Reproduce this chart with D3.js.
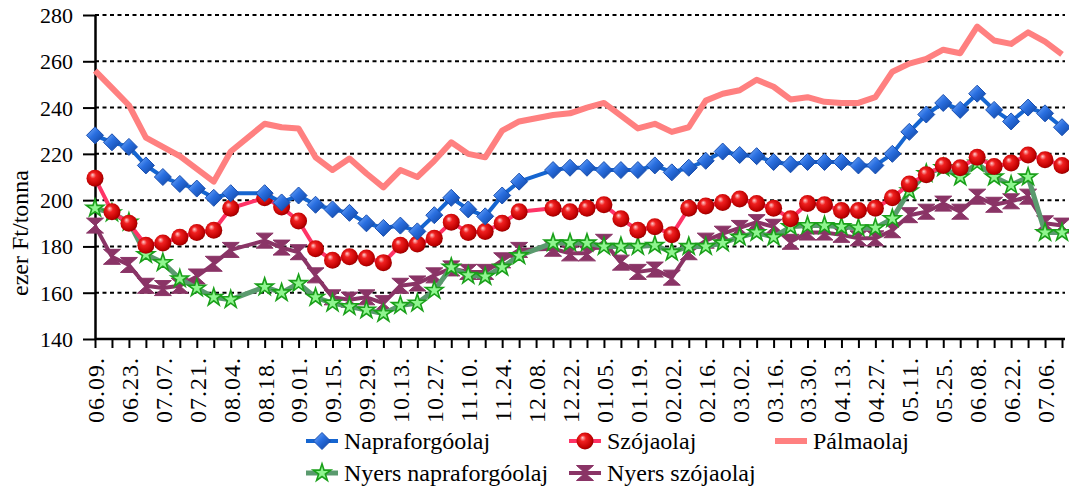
<!DOCTYPE html>
<html>
<head>
<meta charset="utf-8">
<script src="https://cdn.jsdelivr.net/npm/d3@7"></script>
<style>
  body { margin: 0; background: #fff; }
</style>
</head>
<body>
<svg id="chart" width="1069" height="491"></svg>
<script>
// weekly dates, every second one is labelled
const categories = [
  '06.09.', '06.16.', '06.23.', '06.30.', '07.07.', '07.14.', '07.21.', '07.28.',
  '08.04.', '08.11.', '08.18.', '08.25.', '09.01.', '09.08.', '09.15.', '09.22.',
  '09.29.', '10.06.', '10.13.', '10.20.', '10.27.', '11.03.', '11.10.', '11.17.',
  '11.24.', '12.01.', '12.08.', '12.15.', '12.22.', '12.29.', '01.05.', '01.12.',
  '01.19.', '01.26.', '02.02.', '02.09.', '02.16.', '02.23.', '03.02.', '03.09.',
  '03.16.', '03.23.', '03.30.', '04.06.', '04.13.', '04.20.', '04.27.', '05.04.',
  '05.11.', '05.18.', '05.25.', '06.01.', '06.08.', '06.15.', '06.22.', '06.29.',
  '07.06.', '07.13.'
];

const napraforgoolaj = [
  228, 225, 223, 215, 210, 207, 205, 201, 203, null, 203, 199, 202, 198, 196, 194.5,
  190, 188, 189, 186.5, 193.5, 201, 196, 193, 202, 208, null, 213, 214, 214, 213, 213,
  213, 215, 212, 214, 217, 221, 219.5, 219, 216.5, 215.5, 216.5, 216.5, 216.5, 215, 215, 220,
  229.5, 237, 242, 239, 246, 239, 234, 240, 237.5, 231.5
];
const szojaolaj = [
  209.5, 195, 190, 180.5, 181.5, 184, 186, 187, 196.5, null, 201, 197, 191, 179, 174, 175.5,
  175, 173, 180.5, 181, 183.5, 190.5, 186, 186.5, 190, 195, null, 196.5, 195, 196.5, 198, 192,
  187, 188.5, 185, 196.5, 197.5, 199, 200.5, 198.5, 196.5, 192, 198.5, 198, 195.5, 195.5, 196.5, 201,
  207, 211, 215, 214, 218.5, 214.5, 216, 219.5, 217.5, 215
];
const palmaolaj = [
  256, 248.5, 241, 227, 223, 219, 213.5, 208, 221, null, 233, 231.5, 231, 218.5, 213, 218,
  211.5, 205.5, 213, 210, 217, 225, 220, 218.5, 230, 234, null, 236.8, 237.5, 240, 242, 236.5,
  231, 233, 229.5, 231.5, 243, 246, 247.5, 252, 249, 243.5, 244.5, 242.5, 242, 242, 244.5, 255.5,
  259, 261, 265, 263.5, 275, 269, 267.5, 272.5, 268.5, 263
];
const nyersNapraforgo = [
  196.5, 194.5, 190.5, 176.5, 173, 166, 162, 158, 157, null, 162.5, 160, 164, 158, 155.5, 154,
  152.5, 151, 154.5, 155.5, 161, 171, 167.5, 167, 171, 176, null, 181.5, 181.5, 181.5, 180, 180,
  180, 180.5, 177.5, 180, 180, 181.5, 184, 186, 184, 188.5, 189, 189, 188.5, 188, 188, 192,
  204, 211.5, 214, 210, 216, 210, 206.5, 210, 186, 186
];
const nyersSzoja = [
  189, 175.5, 172, 163, 162, 163, 167, 172.5, 178.5, null, 182.5, 179.5, 177.5, 167.5, 158, 157,
  158, 155.5, 163, 164, 167.5, 170.5, 169, 169, 174, 178.5, null, 179, 177, 177, 182, 173,
  169, 170, 166.5, 177.5, 182.5, 185.5, 188, 190.5, 188.5, 182, 186, 186, 185, 183.5, 183.5, 187,
  193.5, 195, 198.5, 195, 201.5, 198, 199.5, 201.5, 190, 189
];

const yTicks = [140, 160, 180, 200, 220, 240, 260, 280];

const font = "'Liberation Serif'";

const svg = d3.select('#chart').attr('font-family', font).style('font-family', font);
svg.append('rect').attr('width', 1069).attr('height', 491).attr('fill', '#fff');

const plotLeft = 95, plotRight = 1062, plotTop = 15, plotBottom = 339;

const x = d3.scalePoint().domain(categories).range([plotLeft, plotRight]);
const y = d3.scaleLinear().domain([140, 280]).range([plotBottom, plotTop]);

// gradients for the picture markers
const defs = svg.append('defs');
const ball = defs.append('radialGradient').attr('id', 'ball')
  .attr('cx', '45%').attr('cy', '45%').attr('r', '60%').attr('fx', '35%').attr('fy', '30%');
ball.append('stop').attr('offset', '0%').attr('stop-color', '#ffd0d0');
ball.append('stop').attr('offset', '30%').attr('stop-color', '#f02020');
ball.append('stop').attr('offset', '80%').attr('stop-color', '#c00000');
ball.append('stop').attr('offset', '100%').attr('stop-color', '#800000');
const dia = defs.append('linearGradient').attr('id', 'dia')
  .attr('x1', '0%').attr('y1', '0%').attr('x2', '100%').attr('y2', '100%');
dia.append('stop').attr('offset', '0%').attr('stop-color', '#7fb4ff');
dia.append('stop').attr('offset', '45%').attr('stop-color', '#2a6fe0');
dia.append('stop').attr('offset', '100%').attr('stop-color', '#0b3f9a');

// gridlines
svg.append('g').selectAll('line')
  .data(yTicks.slice(1))
  .join('line')
  .attr('x1', plotLeft).attr('x2', plotRight + 3)
  .attr('y1', d => y(d)).attr('y2', d => y(d))
  .attr('stroke', '#000').attr('stroke-width', 2)
  .attr('stroke-dasharray', '4,3.5');

// axes
const yAxis = d3.axisLeft(y).tickValues(yTicks).tickSize(12).tickPadding(10).tickSizeOuter(0);
const gy = svg.append('g').attr('transform', `translate(${plotLeft},0)`).call(yAxis)
  .attr('font-family', font).attr('font-size', 22);
gy.select('.domain').attr('stroke-width', 2.5);
gy.selectAll('.tick line').attr('stroke-width', 2);
gy.selectAll('text')
  .style('font-family', font).style('font-size', '22px')
  .attr('fill', '#000').attr('dy', '0.34em');

const xAxis = d3.axisBottom(x).tickSize(9).tickSizeOuter(0)
  .tickFormat((d, i) => i % 2 === 0 ? d : '');
const gx = svg.append('g').attr('transform', `translate(0,${plotBottom})`).call(xAxis)
  .attr('font-family', font).attr('font-size', 24);
gx.select('.domain').attr('stroke-width', 2.5).attr('d', `M${plotLeft},0H${plotRight + 3}`);
gx.selectAll('.tick line').attr('stroke-width', 2);
gx.selectAll('text')
  .style('font-family', font).style('font-size', '24px')
  .attr('fill', '#000')
  .attr('letter-spacing', 1)
  .attr('text-anchor', 'end')
  .attr('x', 0).attr('y', 0).attr('dy', '0.35em')
  .attr('transform', 'translate(0,18) rotate(-90)');

svg.append('text')
  .attr('transform', 'translate(20,233) rotate(-90)')
  .attr('text-anchor', 'middle').attr('dy', '0.35em')
  .style('font-family', font).style('font-size', '24px')
  .text('ezer Ft/tonna');

// markers
const starPath = d3.symbol(d3.symbolStar, 95)();
const markers = {
  diamond: g => g.append('path').attr('d', 'M0,-8.5L8.5,0L0,8.5L-8.5,0Z')
    .attr('fill', 'url(#dia)').attr('stroke', '#1a4fb0').attr('stroke-width', 1),
  ball: g => g.append('circle').attr('r', 8.5).attr('fill', 'url(#ball)'),
  star: g => g.append('path').attr('d', starPath)
    .attr('fill', '#8ff58f').attr('stroke', '#1aa01a').attr('stroke-width', 1.6),
  hourglass: g => g.append('path').attr('d', 'M-8.5,-7.5H8.5L-8.5,7.5H8.5Z')
    .attr('fill', '#8a3466').attr('stroke', '#8a3466').attr('stroke-width', 1).attr('stroke-linejoin', 'round'),
  none: g => g
};

const series = [
  { name: 'Pálmaolaj', values: palmaolaj, color: '#ff8080', width: 6, marker: 'none' },
  { name: 'Nyers szójaolaj', values: nyersSzoja, color: '#8a3466', width: 4, marker: 'hourglass' },
  { name: 'Nyers napraforgóolaj', values: nyersNapraforgo, color: '#5a9a6e', width: 5, marker: 'star' },
  { name: 'Szójaolaj', values: szojaolaj, color: '#ff3366', width: 4, marker: 'ball' },
  { name: 'Napraforgóolaj', values: napraforgoolaj, color: '#1565d0', width: 4, marker: 'diamond' }
];

const line = d3.line().x(d => x(d.c)).y(d => y(d.v));

series.forEach(s => {
  const pts = s.values.map((v, i) => ({ c: categories[i], v })).filter(d => d.v !== null);
  const g = svg.append('g');
  g.append('path').datum(pts).attr('d', line)
    .attr('fill', 'none').attr('stroke', s.color).attr('stroke-width', s.width)
    .attr('stroke-linejoin', 'round');
  pts.forEach(d => {
    const m = g.append('g').attr('transform', `translate(${x(d.c)},${y(d.v)})`);
    markers[s.marker](m);
  });
});

// legend
const legendItems = [
  { s: 'Napraforgóolaj', x: 306, y: 441 },
  { s: 'Szójaolaj', x: 569, y: 441 },
  { s: 'Pálmaolaj', x: 775, y: 441 },
  { s: 'Nyers napraforgóolaj', x: 306, y: 473 },
  { s: 'Nyers szójaolaj', x: 569, y: 473 }
];
legendItems.forEach(it => {
  const s = series.find(d => d.name === it.s);
  const g = svg.append('g').attr('transform', `translate(${it.x},${it.y})`);
  g.append('line').attr('x1', 0).attr('x2', 32).attr('y1', 0).attr('y2', 0)
    .attr('stroke', s.color).attr('stroke-width', s.width);
  const m = g.append('g').attr('transform', 'translate(16,0)');
  markers[s.marker](m);
  g.append('text').attr('x', 38).attr('dy', '0.33em')
    .style('font-family', font).style('font-size', '24px').text(s.name);
});
</script>
</body>
</html>
